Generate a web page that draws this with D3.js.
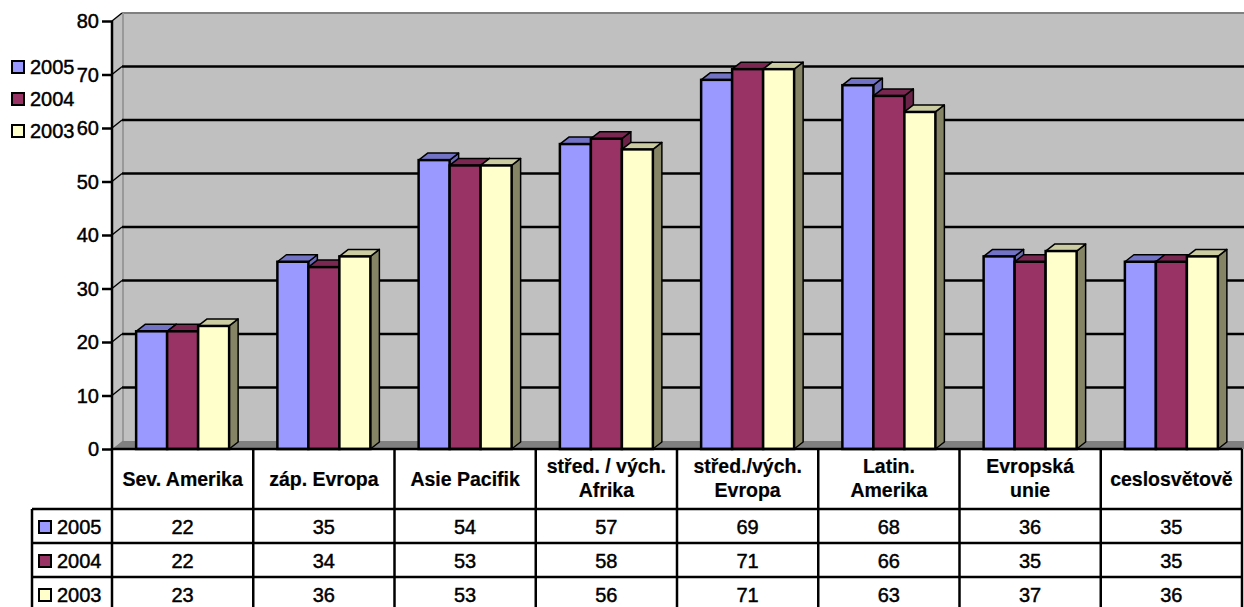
<!DOCTYPE html>
<html>
<head>
<meta charset="utf-8">
<script src="https://cdn.jsdelivr.net/npm/d3@7"></script>
<style>
  body { margin: 0; background: #fff; }
  svg { display: block; font-family: "Liberation Sans", Arial, sans-serif; }
  svg text { stroke: #000; stroke-width: 0.45px; }
</style>
</head>
<body>
<div id="chart"></div>
<script>
// Data
const categories = ["Sev. Amerika", "záp. Evropa", "Asie Pacifik", "střed. / vých.\nAfrika",
  "střed./vých.\nEvropa", "Latin.\nAmerika", "Evropská\nunie", "ceslosvětově"];
const years = ["2005", "2004", "2003"];
const values2005 = [22, 35, 54, 57, 69, 68, 36, 35];
const values2004 = [22, 34, 53, 58, 71, 66, 35, 35];
const values2003 = [23, 36, 53, 56, 71, 63, 37, 36];
const yTicks = [0, 10, 20, 30, 40, 50, 60, 70, 80];

const seriesValues = [values2005, values2004, values2003];
const colors = [
  { front: "#9999FF", top: "#7373C6", side: "#6B6BB3" },
  { front: "#993366", top: "#7A2852", side: "#6B2447" },
  { front: "#FFFFCC", top: "#CCCCA3", side: "#858566" }
];

const W = 1244, H = 607;
const wallDx = 10, wallDy = -8;   // depth of the back wall
const barDx = 9, barDy = -7;      // depth of each bar

const svg = d3.select('#chart').append('svg')
  .attr('width', W).attr('height', H);

// 1. Scales
const y = d3.scaleLinear().domain([0, 80]).range([449, 21]);
const x = d3.scaleBand().domain(categories).range([112, 1242]);
const groupW = 93;
const xs = d3.scaleBand().domain(years).range([0, groupW]);
const x0 = x(categories[0]);
const x1 = x.range()[1];

// 2. Walls and floor
svg.append('rect')
  .attr('x', x0 + wallDx).attr('y', y(80) + wallDy)
  .attr('width', W - x0 - wallDx).attr('height', y(0) - y(80))
  .attr('fill', '#C0C0C0');

svg.append('polygon')
  .attr('points', [[x0, y(80)], [x0 + wallDx, y(80) + wallDy], [x0 + wallDx, y(0) + wallDy], [x0, y(0)]].join(' '))
  .attr('fill', '#C0C0C0');

svg.append('polygon')
  .attr('points', [[x0, y(0)], [x0 + wallDx, y(0) + wallDy], [W, y(0) + wallDy], [W, y(0)]].join(' '))
  .attr('fill', '#808080');

// wall edges
svg.append('line')
  .attr('x1', x0 + wallDx).attr('x2', W)
  .attr('y1', y(80) + wallDy).attr('y2', y(80) + wallDy)
  .attr('stroke', '#808080').attr('stroke-width', 2);
svg.append('line')
  .attr('x1', x0 + wallDx + 1).attr('x2', x0 + wallDx + 1)
  .attr('y1', y(80) + wallDy).attr('y2', y(0) + wallDy)
  .attr('stroke', '#999999').attr('stroke-width', 2);

// 3. Gridlines on the back wall
const grid = svg.append('g');
yTicks.filter(t => t > 0 && t < 80).forEach(t => {
  grid.append('line')
    .attr('x1', x0 + wallDx).attr('x2', W)
    .attr('y1', y(t) + wallDy).attr('y2', y(t) + wallDy)
    .attr('stroke', '#000').attr('stroke-width', 2.5);
});
yTicks.filter(t => t > 0).forEach(t => {
  grid.append('line')
    .attr('x1', x0).attr('x2', x0 + wallDx)
    .attr('y1', y(t)).attr('y2', y(t) + wallDy)
    .attr('stroke', '#000').attr('stroke-width', 1.5);
});

// 4. Y axis
svg.append('g')
  .attr('transform', `translate(${x0},0)`)
  .call(d3.axisLeft(y).tickValues(yTicks).tickSize(10).tickPadding(3))
  .call(g => g.select('.domain').attr('stroke', '#000').attr('stroke-width', 2.5).attr('d', `M0,${y(80)}V${y(0)}`))
  .call(g => g.selectAll('.tick line').attr('stroke', '#000').attr('stroke-width', 2.5))
  .call(g => g.selectAll('.tick text')
    .attr('font-family', '"Liberation Sans", Arial, sans-serif')
    .attr('font-size', 20).attr('fill', '#000').attr('dy', '0.34em'));

// 5. Bars (3D boxes drawn left to right)
const bars = svg.append('g');
categories.forEach((cat, ci) => {
  const gx = x(cat) + (x.bandwidth() - groupW) / 2;
  years.forEach((yr, si) => {
    const v = seriesValues[si][ci];
    const bx = gx + xs(yr), bw = xs.bandwidth();
    const top = y(v), base = y(0);
    const c = colors[si];
    bars.append('polygon')
      .attr('points', [[bx + bw, top], [bx + bw + barDx, top + barDy], [bx + bw + barDx, base + barDy], [bx + bw, base]].join(' '))
      .attr('fill', c.side).attr('stroke', '#000').attr('stroke-width', 1.5).attr('stroke-linejoin', 'round');
    bars.append('polygon')
      .attr('points', [[bx, top], [bx + barDx, top + barDy], [bx + bw + barDx, top + barDy], [bx + bw, top]].join(' '))
      .attr('fill', c.top).attr('stroke', '#000').attr('stroke-width', 1.5).attr('stroke-linejoin', 'round');
    bars.append('rect')
      .attr('x', bx).attr('y', top)
      .attr('width', bw).attr('height', base - top)
      .attr('fill', c.front).attr('stroke', '#000').attr('stroke-width', 2.5);
  });
});

// 6. Top-left legend
const legend = svg.append('g');
years.forEach((yr, i) => {
  const ly = 67 + i * 32;
  legend.append('rect')
    .attr('x', 12).attr('y', ly - 6).attr('width', 12).attr('height', 12)
    .attr('fill', colors[i].front).attr('stroke', '#000').attr('stroke-width', 2);
  legend.append('text')
    .attr('x', 30).attr('y', ly + 7)
    .attr('font-size', 20).text(yr);
});

// 7. Data table
const table = svg.append('g');
const headerTop = y(0), headerBottom = 509, rowH = 34;
const rowTops = years.map((d, i) => headerBottom + i * rowH);
const tableLeft = 32;

const lineAttrs = sel => sel.attr('stroke', '#000').attr('stroke-width', 2.5);

// horizontal lines
table.append('line').attr('x1', x0).attr('x2', x1).attr('y1', headerTop).attr('y2', headerTop).call(lineAttrs);
rowTops.concat([headerBottom + years.length * rowH]).forEach(ty => {
  table.append('line').attr('x1', tableLeft).attr('x2', x1).attr('y1', ty).attr('y2', ty).call(lineAttrs);
});
// vertical lines
table.append('line').attr('x1', tableLeft).attr('x2', tableLeft).attr('y1', headerBottom).attr('y2', H + 5).call(lineAttrs);
categories.forEach(cat => {
  table.append('line').attr('x1', x(cat)).attr('x2', x(cat)).attr('y1', headerTop).attr('y2', H + 5).call(lineAttrs);
});
table.append('line').attr('x1', x1).attr('x2', x1).attr('y1', headerTop).attr('y2', H + 5).call(lineAttrs);

// header labels
categories.forEach(cat => {
  const lines = cat.split('\n');
  const cx = x(cat) + x.bandwidth() / 2;
  const t = table.append('text')
    .attr('x', cx).attr('text-anchor', 'middle')
    .attr('font-size', 19.5).attr('font-weight', 'bold').style('stroke-width', '0.2px');
  const firstBase = lines.length === 1 ? 486 : 473;
  lines.forEach((ln, li) => {
    t.append('tspan').attr('x', cx).attr('y', firstBase + li * 24).text(ln);
  });
});

// row legend + values
years.forEach((yr, si) => {
  const ty = rowTops[si];
  table.append('rect')
    .attr('x', 39).attr('y', ty + 12).attr('width', 12).attr('height', 12)
    .attr('fill', colors[si].front).attr('stroke', '#000').attr('stroke-width', 2);
  table.append('text')
    .attr('x', 57).attr('y', ty + 25)
    .attr('font-size', 20).text(yr);
  categories.forEach((cat, ci) => {
    table.append('text')
      .attr('x', x(cat) + x.bandwidth() / 2).attr('y', ty + 25)
      .attr('text-anchor', 'middle').attr('font-size', 20)
      .text(seriesValues[si][ci]);
  });
});
</script>
</body>
</html>
